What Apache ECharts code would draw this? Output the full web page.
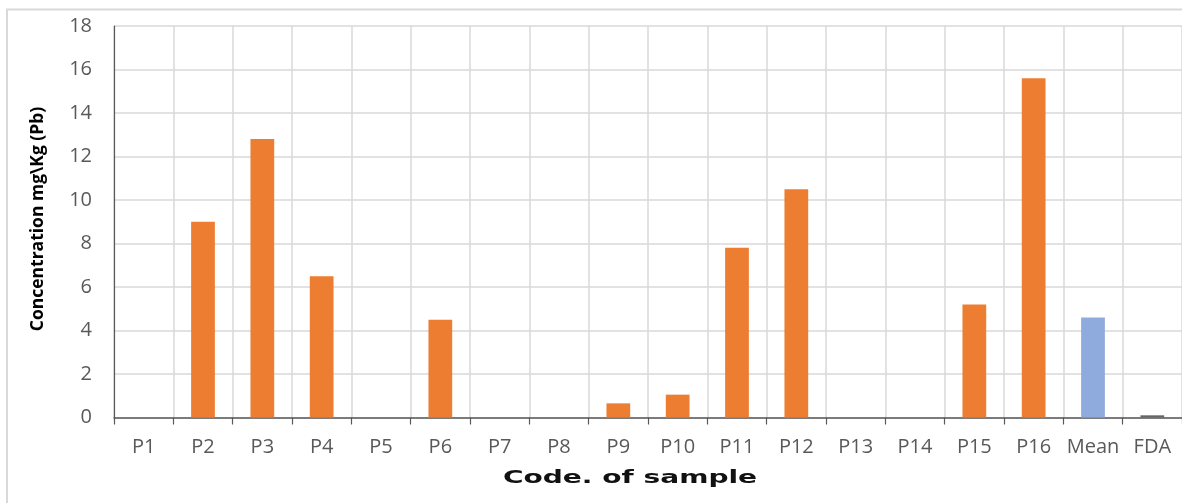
<!DOCTYPE html>
<html>
<head>
<meta charset="utf-8">
<style>
  html, body { margin: 0; padding: 0; background: #ffffff; }
  #chart { width: 1182px; height: 503px; }
</style>
<script src="https://cdn.jsdelivr.net/npm/echarts@6/dist/echarts.min.js"></script>
</head>
<body>
<div id="chart"></div>
<script>
// Sample codes along the category axis
const categories = ['P1', 'P2', 'P3', 'P4', 'P5', 'P6', 'P7', 'P8', 'P9', 'P10',
                    'P11', 'P12', 'P13', 'P14', 'P15', 'P16', 'Mean', 'FDA'];
// Lead (Pb) concentration, mg/Kg, per sample, then the mean and the FDA limit
const pbValues = [0, 9.0, 12.8, 6.5, 0, 4.5, 0, 0, 0.65, 1.05,
                  7.8, 10.5, 0, 0, 5.2, 15.6, 4.6, 0.1];
// Value axis ticks
const yTicks = [0, 2, 4, 6, 8, 10, 12, 14, 16, 18];

const barColors = { sample: '#ED7D31', Mean: '#8FAADC', FDA: '#666666' };

const chart = echarts.init(document.getElementById('chart'), null, { renderer: 'canvas' });

const labelFont = '"Open Sans", "Noto Sans", sans-serif';

chart.setOption({
  backgroundColor: '#ffffff',
  animation: false,
  grid: { left: 114, top: 26, width: 1076, height: 391.5, containLabel: false },
  xAxis: {
    type: 'category',
    data: categories,
    boundaryGap: true,
    axisLine: { show: true, lineStyle: { color: '#595959', width: 1.5 } },
    axisTick: { show: true, interval: 0, length: 7, lineStyle: { color: '#595959', width: 1.2 } },
    axisLabel: { interval: 0, color: '#595959', fontSize: 20, fontFamily: labelFont, margin: 20 },
    splitLine: { show: true, interval: 0, lineStyle: { color: '#d9d9d9', width: 1.5 } }
  },
  yAxis: {
    type: 'value',
    min: yTicks[0],
    max: yTicks[yTicks.length - 1],
    interval: yTicks[1] - yTicks[0],
    axisLine: { show: true, lineStyle: { color: '#595959', width: 1.2 } },
    axisTick: { show: false },
    axisLabel: { color: '#595959', fontSize: 20, fontFamily: labelFont, margin: 22 },
    splitLine: { show: true, lineStyle: { color: '#d9d9d9', width: 1.5 } }
  },
  series: [{
    type: 'bar',
    barWidth: '40%',
    data: pbValues.map((v, i) => ({
      value: v,
      itemStyle: { color: barColors[categories[i]] || barColors.sample }
    }))
  }],
  graphic: [
    {
      type: 'rect',
      z: -10,
      shape: { x: 7, y: 9.5, width: 1300, height: 600 },
      style: { fill: 'none', stroke: '#d9d9d9', lineWidth: 2 }
    },
    {
      type: 'text',
      x: 38,
      y: 219,
      rotation: Math.PI / 2,
      style: {
        text: 'Concentration mg\\Kg (Pb)',
        font: 'bold 17.5px "Open Sans", "Noto Sans", sans-serif',
        fill: '#000000',
        align: 'center',
        verticalAlign: 'middle'
      }
    },
    {
      type: 'text',
      x: 630,
      y: 479,
      scaleX: 1.65,
      style: {
        text: 'Code. of sample',
        font: 'bold 17px "DejaVu Sans", sans-serif',
        fill: '#111111',
        align: 'center',
        verticalAlign: 'middle'
      }
    }
  ]
});
</script>
</body>
</html>
